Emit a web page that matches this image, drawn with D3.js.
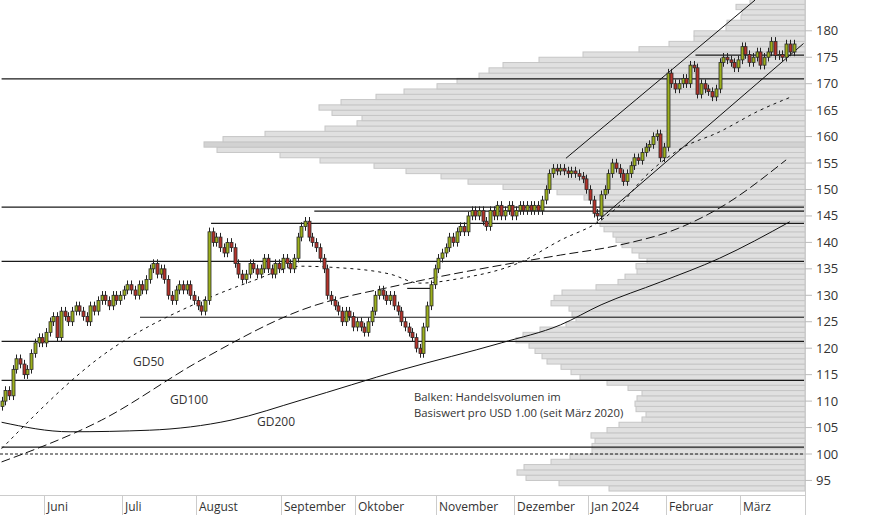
<!DOCTYPE html>
<html>
<head>
<meta charset="utf-8">
<script src="https://cdn.jsdelivr.net/npm/d3@7"></script>
<style>
  body { margin: 0; background: #fff; }
  text { font-family: "Open Sans", "Noto Sans", sans-serif; fill: #333; }
</style>
</head>
<body>
<svg id="chart" width="874" height="515"></svg>
<script>
// daily closes, one per trading day
var closes = [
  110, 112, 111, 116, 118, 117, 115, 116, 119, 121, 122, 121, 123,
  125, 126, 122, 127, 126, 125, 127, 128, 127, 126, 125, 128,
  127, 129, 130, 129, 128, 130, 129, 130, 131, 132, 131, 130,
  132, 131, 133, 135, 136, 134, 135, 133, 130, 129, 131, 132,
  131, 132, 130, 129, 128, 127, 129, 142, 140, 141, 139, 138,
  140, 139, 136, 134, 133, 134, 136, 135, 134, 135, 137, 135,
  134, 136, 135, 137, 136, 135, 137, 141, 143, 144, 141, 140,
  139, 137, 135, 130, 129, 128, 127, 125, 127, 126, 124, 125,
  124, 123, 125, 127, 130, 131, 130, 129, 130, 128, 127, 125,
  124, 123, 122, 120, 119, 124, 128, 132, 135, 137, 138, 139,
  141, 140, 142, 143, 142, 145, 146, 145, 146, 144, 143, 146,
  145, 147, 145, 146, 147, 145, 146, 147, 146, 147, 146, 147,
  146, 148, 150, 153, 154, 153.5, 154, 153.5, 153, 153.5, 153, 152.5,
  152, 150, 148, 145.5, 145, 149, 150, 153, 155, 154, 153, 151.5,
  153, 154.5, 156, 155.5, 157, 158, 158.5, 160, 160.5, 156, 158, 172,
  170, 169, 170, 171, 170, 173.5, 173, 168, 170, 169, 168.5, 167.5,
  169, 174, 175, 174.5, 174, 173, 174.5, 177, 175.5, 174, 175, 176,
  173.5, 175, 176, 178, 175.3, 175.5, 175, 177.5, 176, 177.5
];
var firstOpen = 109;

// moving averages: [trading-day index, value]
var gd50 = [[0,101],[27,118.5],[54,128.9],[67,132.5],[81,135.5],[89,135.3],[105,134],[113,132.3],[124,133.2],[140,136.2],[151,140.4],[162,144.2],[168,147.7],[173,151.8],[183,157.5],[194,160.9],[205,165],[213,167.4]];
var gd100 = [[0,98.5],[27,106.4],[54,117.8],[81,127.2],[108,132],[135,135.7],[151,137.6],[167,139.5],[183,142.7],[194,146.5],[212,155.6]];
var gd200 = [[0,106],[18.5,104.2],[40,104.5],[62,106.4],[81,110.2],[108,115.9],[135,121],[151,124.4],[162,128.2],[178,132.5],[194,137],[213,143.9]];

// support / resistance lines: [price, start index]
var levels = [[170.9,0],[175.4,187.5],[146.65,0],[145.9,84.5],[143.6,56.6],[136.4,0],[125.85,37.4],[121.3,0],[113.9,0],[101.3,0]];
var shortLevel = [131.3, 109.6, 116.6];
var trendUpper = [[152.5,155.9],[203.6,185.8]];
var trendLower = [[160.8,143.9],[216.7,177.6]];

// volume profile per 1-USD price band, starting at 93
var volBase = 93;
var volumes = [196,246,279,288,281,254,235,213,213,210,214,198,186,163,159,169,170,168,163,177,
  198,225,234,244,258,263,270,276,289,282,265,239,229,233,236,254,251,243,209,187,
  180,168,169,158,166,173,183,189,192,201,205,203,205,205,203,221,248,302,337,364,
  399,431,485,525,588,601,582,540,480,448,443,473,486,464,429,401,368,348,326,316,
  302,266,222,166,136,111,111,79,78,64,63,69,55];

var monthNames = ["Juni","Juli","August","September","Oktober","November","Dezember","Jan 2024","Februar","März"];
var monthStarts = [12,33,53,76,96,118,139,159,180,200];
var yTicks = d3.range(95, 181, 5);

var W = 805, H = 495;
var svg = d3.select("#chart");
var x = d3.scaleLinear().domain([-0.43, 217.1]).range([0, W]);
var y = d3.scaleLinear().domain([185.82, 92.25]).range([0, H]);
var vx = d3.scaleLinear().domain([0, 600]).range([W, W - 600]);

// volume profile
svg.append("g").selectAll("rect").data(volumes).enter().append("rect")
  .attr("x", function (d) { return vx(d); })
  .attr("y", function (d, i) { return y(volBase + i + 1); })
  .attr("width", function (d) { return W - vx(d); })
  .attr("height", function (d, i) { return y(volBase + i) - y(volBase + i + 1); })
  .attr("fill", function (d) { return d === d3.max(volumes) ? "#d2d2d2" : "#e0e0e0"; })
  .attr("stroke", "#c6c6c6").attr("stroke-width", 1);

// axes frame
svg.append("line").attr("x1", 0).attr("x2", W).attr("y1", H + 0.5).attr("y2", H + 0.5).attr("stroke", "#ccc");
svg.append("line").attr("x1", W + 0.5).attr("x2", W + 0.5).attr("y1", 0).attr("y2", 515).attr("stroke", "#ccc");

var yAxis = svg.append("g");
yTicks.forEach(function (t) {
  yAxis.append("line").attr("x1", W).attr("x2", W + 7).attr("y1", y(t)).attr("y2", y(t)).attr("stroke", "#bbb");
  yAxis.append("text").attr("x", W + 11).attr("y", y(t) + 4.5).attr("font-size", 13).text(t);
});

monthStarts.forEach(function (m, k) {
  var px = Math.round(x(m) - 1.8) + 0.5;
  svg.append("line").attr("x1", px).attr("x2", px).attr("y1", H).attr("y2", 515).attr("stroke", "#ccc");
  svg.append("text").attr("x", px + 2.5).attr("y", 511).attr("font-size", 12).text(monthNames[k]);
});

// horizontal levels
levels.forEach(function (l) {
  svg.append("line").attr("x1", x(l[1])).attr("x2", W - 1).attr("y1", y(l[0])).attr("y2", y(l[0]))
    .attr("stroke", "#1a1a1a").attr("stroke-width", 1.2);
});
svg.append("line").attr("x1", x(shortLevel[1])).attr("x2", x(shortLevel[2])).attr("y1", y(shortLevel[0])).attr("y2", y(shortLevel[0]))
  .attr("stroke", "#1a1a1a").attr("stroke-width", 1.2);
svg.append("line").attr("x1", 0).attr("x2", W).attr("y1", y(100)).attr("y2", y(100))
  .attr("stroke", "#1a1a1a").attr("stroke-dasharray", "3,2");

// trend channel
[trendUpper, trendLower].forEach(function (t) {
  svg.append("line").attr("x1", x(t[0][0])).attr("y1", y(t[0][1])).attr("x2", x(t[1][0])).attr("y2", y(t[1][1]))
    .attr("stroke", "#111").attr("stroke-width", 1);
});

// moving averages
var line = d3.line().curve(d3.curveMonotoneX).x(function (d) { return x(d[0]); }).y(function (d) { return y(d[1]); });
svg.append("path").attr("d", line(gd200)).attr("fill", "none").attr("stroke", "#111").attr("stroke-width", 1);
svg.append("path").attr("d", line(gd100)).attr("fill", "none").attr("stroke", "#111").attr("stroke-width", 1).attr("stroke-dasharray", "9,4");
svg.append("path").attr("d", line(gd50)).attr("fill", "none").attr("stroke", "#111").attr("stroke-width", 1).attr("stroke-dasharray", "3,4");

// candles
var candles = closes.map(function (c, i) {
  var o = i === 0 ? firstOpen : closes[i - 1];
  return { i: i, o: o, c: c, h: Math.max(o, c) + 0.8, l: Math.min(o, c) - 0.8 };
});
var cg = svg.append("g").selectAll("g").data(candles).enter().append("g");
cg.append("line")
  .attr("x1", function (d) { return Math.round(x(d.i)) + 0.5; })
  .attr("x2", function (d) { return Math.round(x(d.i)) + 0.5; })
  .attr("y1", function (d) { return y(d.h); })
  .attr("y2", function (d) { return y(d.l); })
  .attr("stroke", "#222");
cg.append("rect")
  .attr("x", function (d) { return Math.round(x(d.i)) - 1; })
  .attr("y", function (d) { return y(Math.max(d.o, d.c)); })
  .attr("width", 3)
  .attr("height", function (d) { return Math.max(1, y(Math.min(d.o, d.c)) - y(Math.max(d.o, d.c))); })
  .attr("fill", function (d) { return d.c >= d.o ? "#9cb01c" : "#b5322a"; })
  .attr("stroke", "#2a2a2a").attr("stroke-width", 0.8);

// labels
svg.append("text").attr("x", 133).attr("y", 366).attr("font-size", 12).text("GD50");
svg.append("text").attr("x", 170).attr("y", 404).attr("font-size", 12).text("GD100");
svg.append("text").attr("x", 257).attr("y", 426).attr("font-size", 12).text("GD200");
svg.append("text").attr("x", 414).attr("y", 401).attr("font-size", 11.3).text("Balken: Handelsvolumen im");
svg.append("text").attr("x", 414).attr("y", 417).attr("font-size", 11.3).text("Basiswert pro USD 1.00 (seit März 2020)");
</script>
</body>
</html>
